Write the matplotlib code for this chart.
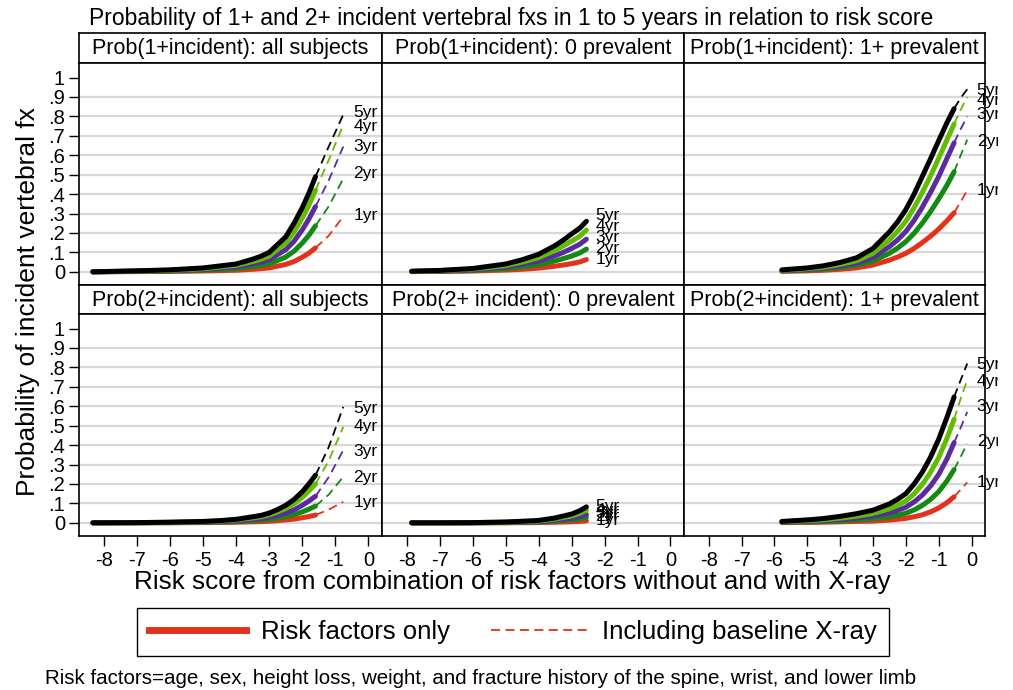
import matplotlib
matplotlib.use("Agg")
import matplotlib.pyplot as plt
from matplotlib.lines import Line2D
from matplotlib.transforms import Bbox, TransformedBbox

plt.rcParams["font.family"] = ["Liberation Sans", "DejaVu Sans"]

years = ["1yr", "2yr", "3yr", "4yr", "5yr"]
colors = ["#e2321c", "#138a12", "#5a2ca0", "#62bc04", "#000000"]

# ---- panel 1: Prob(1+incident): all subjects ----
p1_x = [-8.33, -7, -6, -5, -4.5, -4, -3.5, -3.25, -3, -2.75, -2.5, -2.25, -2, -1.8, -1.6]
p1_solid = [
    [0.000, 0.001, 0.002, 0.004, 0.006, 0.008, 0.013, 0.016, 0.020, 0.029, 0.038, 0.053, 0.075, 0.096, 0.123],
    [0.000, 0.002, 0.004, 0.008, 0.012, 0.016, 0.027, 0.033, 0.041, 0.058, 0.076, 0.106, 0.148, 0.188, 0.237],
    [0.000, 0.003, 0.006, 0.012, 0.018, 0.025, 0.040, 0.049, 0.062, 0.088, 0.114, 0.157, 0.216, 0.272, 0.336],
    [0.000, 0.004, 0.008, 0.016, 0.025, 0.033, 0.053, 0.065, 0.081, 0.115, 0.148, 0.204, 0.277, 0.343, 0.420],
    [0.000, 0.005, 0.010, 0.020, 0.030, 0.040, 0.065, 0.080, 0.100, 0.140, 0.180, 0.250, 0.330, 0.405, 0.490],
]
p1_dx = [-1.6, -1.2, -0.76]
p1_dash = [
    [0.123, 0.186, 0.285],
    [0.237, 0.337, 0.480],
    [0.336, 0.471, 0.645],
    [0.420, 0.576, 0.757],
    [0.490, 0.645, 0.810],
]
p1_lab = [0.288, 0.505, 0.645, 0.750, 0.820]

# ---- panel 2: Prob(1+incident): 0 prevalent ----
p2_x = [-7.85, -7, -6, -5, -4.5, -4, -3.5, -3.25, -3, -2.75, -2.55]
p2_solid = [
    [0.001, 0.002, 0.004, 0.009, 0.013, 0.019, 0.029, 0.035, 0.042, 0.051, 0.063],
    [0.001, 0.003, 0.007, 0.016, 0.025, 0.037, 0.056, 0.068, 0.081, 0.097, 0.117],
    [0.002, 0.004, 0.010, 0.024, 0.038, 0.055, 0.083, 0.100, 0.120, 0.142, 0.168],
    [0.002, 0.006, 0.014, 0.032, 0.050, 0.073, 0.110, 0.133, 0.158, 0.183, 0.215],
    [0.003, 0.007, 0.017, 0.040, 0.062, 0.090, 0.135, 0.163, 0.195, 0.225, 0.260],
]
p2_lab = [0.063, 0.120, 0.175, 0.232, 0.290]

# ---- panel 3: Prob(1+incident): 1+ prevalent ----
p3_x = [-5.77, -5, -4.5, -4, -3.5, -3, -2.5, -2.25, -2, -1.75, -1.5, -1.25, -1, -0.75, -0.53]
p3_solid = [
    [0.002, 0.005, 0.008, 0.013, 0.020, 0.035, 0.060, 0.076, 0.095, 0.120, 0.150, 0.183, 0.220, 0.262, 0.304],
    [0.004, 0.009, 0.014, 0.022, 0.034, 0.056, 0.095, 0.122, 0.155, 0.198, 0.250, 0.309, 0.375, 0.445, 0.515],
    [0.006, 0.012, 0.019, 0.029, 0.044, 0.074, 0.129, 0.164, 0.207, 0.264, 0.332, 0.408, 0.490, 0.583, 0.664],
    [0.008, 0.016, 0.024, 0.038, 0.057, 0.095, 0.164, 0.209, 0.260, 0.329, 0.408, 0.493, 0.584, 0.679, 0.761],
    [0.010, 0.020, 0.031, 0.048, 0.072, 0.120, 0.205, 0.257, 0.320, 0.399, 0.490, 0.581, 0.675, 0.767, 0.840],
]
p3_dx = [-0.53, -0.33, -0.13]
p3_dash = [
    [0.304, 0.360, 0.420],
    [0.515, 0.600, 0.680],
    [0.664, 0.735, 0.800],
    [0.761, 0.835, 0.900],
    [0.840, 0.895, 0.940],
]
p3_lab = [0.417, 0.670, 0.810, 0.883, 0.935]

# ---- panel 4: Prob(2+incident): all subjects ----
p4_x = [-8.33, -7, -6, -5, -4.5, -4, -3.5, -3.25, -3, -2.75, -2.5, -2.25, -2, -1.8, -1.6]
p4_solid = [
    [0.000, 0.000, 0.000, 0.001, 0.002, 0.003, 0.005, 0.006, 0.008, 0.011, 0.015, 0.019, 0.026, 0.032, 0.040],
    [0.000, 0.000, 0.001, 0.002, 0.004, 0.006, 0.011, 0.013, 0.018, 0.024, 0.032, 0.042, 0.056, 0.070, 0.086],
    [0.000, 0.001, 0.002, 0.004, 0.006, 0.010, 0.017, 0.021, 0.028, 0.038, 0.050, 0.067, 0.090, 0.112, 0.137],
    [0.000, 0.001, 0.002, 0.006, 0.009, 0.015, 0.025, 0.031, 0.041, 0.056, 0.074, 0.098, 0.131, 0.164, 0.200],
    [0.000, 0.001, 0.003, 0.007, 0.011, 0.018, 0.031, 0.038, 0.050, 0.068, 0.090, 0.120, 0.160, 0.200, 0.245],
]
p4_dx = [-1.6, -1.2, -0.76]
p4_dash = [
    [0.040, 0.068, 0.108],
    [0.086, 0.145, 0.237],
    [0.137, 0.235, 0.374],
    [0.200, 0.320, 0.494],
    [0.245, 0.390, 0.597],
]
p4_lab = [0.105, 0.232, 0.369, 0.494, 0.590]

# ---- panel 5: Prob(2+ incident): 0 prevalent ----
p5_x = [-7.85, -7, -6, -5, -4, -3.5, -3, -2.75, -2.55]
p5_solid = [
    [0.000, 0.000, 0.000, 0.000, 0.001, 0.003, 0.005, 0.007, 0.010],
    [0.000, 0.000, 0.000, 0.001, 0.004, 0.008, 0.015, 0.020, 0.027],
    [0.000, 0.000, 0.000, 0.002, 0.006, 0.013, 0.023, 0.032, 0.043],
    [0.000, 0.000, 0.001, 0.003, 0.009, 0.020, 0.035, 0.049, 0.065],
    [0.000, 0.000, 0.001, 0.004, 0.012, 0.025, 0.045, 0.062, 0.082],
]
p5_lab = [0.010, 0.031, 0.048, 0.065, 0.086]

# ---- panel 6: Prob(2+incident): 1+ prevalent ----
p6_x = [-5.77, -5, -4.5, -4, -3.5, -3, -2.5, -2.25, -2, -1.75, -1.5, -1.25, -1, -0.75, -0.53]
p6_solid = [
    [0.001, 0.002, 0.003, 0.005, 0.007, 0.009, 0.014, 0.018, 0.023, 0.031, 0.041, 0.056, 0.076, 0.103, 0.134],
    [0.002, 0.005, 0.007, 0.010, 0.015, 0.021, 0.031, 0.039, 0.049, 0.066, 0.089, 0.120, 0.160, 0.215, 0.274],
    [0.004, 0.008, 0.011, 0.017, 0.024, 0.034, 0.051, 0.064, 0.080, 0.107, 0.142, 0.189, 0.249, 0.328, 0.413],
    [0.005, 0.011, 0.016, 0.024, 0.034, 0.048, 0.072, 0.090, 0.112, 0.149, 0.197, 0.259, 0.336, 0.434, 0.533],
    [0.007, 0.015, 0.022, 0.033, 0.047, 0.065, 0.097, 0.121, 0.150, 0.199, 0.260, 0.337, 0.430, 0.542, 0.648],
]
p6_dx = [-0.53, -0.33, -0.13]
p6_dash = [
    [0.134, 0.170, 0.208],
    [0.274, 0.340, 0.408],
    [0.413, 0.490, 0.571],
    [0.533, 0.640, 0.734],
    [0.648, 0.735, 0.820],
]
p6_lab = [0.208, 0.417, 0.597, 0.726, 0.815]

panels = [
    ("Prob(1+incident): all subjects", p1_x, p1_solid, p1_dx, p1_dash, p1_lab, -0.45),
    ("Prob(1+incident): 0 prevalent", p2_x, p2_solid, None, None, p2_lab, -2.28),
    ("Prob(1+incident): 1+ prevalent", p3_x, p3_solid, p3_dx, p3_dash, p3_lab, 0.16),
    ("Prob(2+incident): all subjects", p4_x, p4_solid, p4_dx, p4_dash, p4_lab, -0.45),
    ("Prob(2+ incident): 0 prevalent", p5_x, p5_solid, None, None, p5_lab, -2.28),
    ("Prob(2+incident): 1+ prevalent", p6_x, p6_solid, p6_dx, p6_dash, p6_lab, 0.16),
]

W, H = 1013, 690
fig = plt.figure(figsize=(W / 100, H / 100), dpi=100)


def box(x0, y0, x1, y1):
    return [x0 / W, 1 - y1 / H, (x1 - x0) / W, (y1 - y0) / H]


cols = [(79, 382), (382, 684), (684, 985)]
rows = [(33, 63, 285), (285, 314, 536)]
yt = [0, .1, .2, .3, .4, .5, .6, .7, .8, .9, 1]
ytl = ["0", ".1", ".2", ".3", ".4", ".5", ".6", ".7", ".8", ".9", "1"]

for i, (title, x, solid, dx, dash, lab, labx) in enumerate(panels):
    r, c = divmod(i, 3)
    x0, x1 = cols[c]
    s0, s1, p1 = rows[r]

    sax = fig.add_axes(box(x0, s0, x1, s1))
    sax.set_xticks([])
    sax.set_yticks([])
    for sp in sax.spines.values():
        sp.set_linewidth(1.2)
    sax.text(0.5, 0.47, title, ha="center", va="center", fontsize=15.5,
             transform=sax.transAxes)

    ax = fig.add_axes(box(x0, s1, x1, p1))
    ax.set_xlim(-8.75, 0.41)
    ax.set_ylim(-0.068, 1.075)
    for sp in ax.spines.values():
        sp.set_linewidth(1.2)
    for g in yt[:-1]:
        ax.axhline(g, color="#d8d8d8", lw=1.6, zorder=0)

    for k in range(5):
        if dash is not None:
            ax.plot(dx, dash[k], color=colors[k], lw=1.3, ls=(0, (5, 3)), zorder=2)
    for k in range(5):
        ax.plot(x, solid[k], color=colors[k], lw=3.6, solid_capstyle="round",
                solid_joinstyle="round", zorder=3)
    # year labels may spill a little past the panel edge, then get cut
    clip = TransformedBbox(Bbox([[x0 / W, 1 - p1 / H], [(x1 + 13) / W, 1 - s1 / H]]),
                           fig.transFigure)
    for k in range(5):
        t = ax.text(labx, lab[k], years[k], fontsize=12.5, ha="left", va="center",
                    zorder=4)
        t.set_clip_box(clip)
        t.set_clip_on(True)

    ax.set_yticks(yt)
    ax.set_xticks(range(-8, 1))
    if c == 0:
        ax.set_yticklabels(ytl)
        ax.tick_params(axis="y", length=7, width=1, pad=3, labelsize=14.5)
    else:
        ax.tick_params(axis="y", length=0, labelleft=False)
    if r == 1:
        ax.set_xticklabels([str(v) for v in range(-8, 1)])
        ax.tick_params(axis="x", length=7, width=1, pad=4, labelsize=14.5)
    else:
        ax.tick_params(axis="x", length=0, labelbottom=False)

fig.text(511 / W, 1 - 18 / H,
         "Probability of 1+ and 2+ incident vertebral fxs in 1 to 5 years in relation to risk score",
         ha="center", va="center", fontsize=16.5)
fig.text(28 / W, 1 - 301 / H, "Probability of incident vertebral fx", rotation=90,
         ha="center", va="center", fontsize=19)
fig.text(512 / W, 1 - 582 / H,
         "Risk score from combination of risk factors without and with X-ray",
         ha="center", va="center", fontsize=18.8)
fig.text(45 / W, 1 - 679 / H,
         "Risk factors=age, sex, height loss, weight, and fracture history of the spine, wrist, and lower limb",
         ha="left", va="center", fontsize=14.8)

handles = [Line2D([], [], color=colors[0], lw=5),
           Line2D([], [], color=colors[0], lw=1.3, ls=(0, (5, 3)))]
leg = fig.legend(handles, ["Risk factors only", "Including baseline X-ray"],
                 loc="center", bbox_to_anchor=(513 / W, 1 - 632 / H), ncol=2,
                 fontsize=18.5, frameon=True, fancybox=False, edgecolor="black",
                 framealpha=1, handlelength=3.8, columnspacing=1.6,
                 handletextpad=0.55, borderpad=0.45)
leg.get_frame().set_linewidth(1.0)

fig.savefig("out.png", dpi=100)
